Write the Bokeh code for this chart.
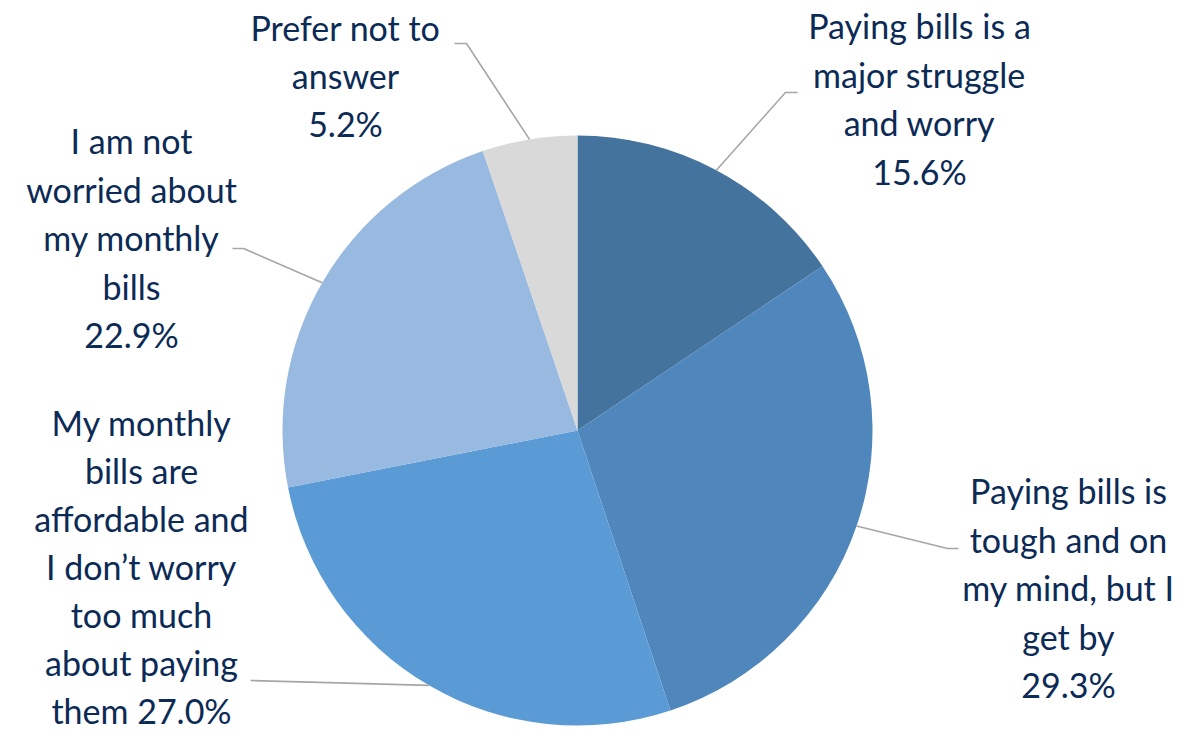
import math
from bokeh.plotting import figure
from bokeh.models import Range1d
from bokeh.core.properties import value
from bokeh.embed import file_html
from bokeh.resources import INLINE

# ---- data ----
categories = [
    "Paying bills is a major struggle and worry",
    "Paying bills is tough and on my mind, but I get by",
    "My monthly bills are affordable and I don’t worry too much about paying them",
    "I am not worried about my monthly bills",
    "Prefer not to answer",
]
shares = [15.6, 29.3, 27.0, 22.9, 5.2]
label_lines = [
    ["Paying bills is a", "major struggle", "and worry", "15.6%"],
    ["Paying bills is", "tough and on", "my mind, but I", "get by", "29.3%"],
    ["My monthly", "bills are", "affordable and", "I don’t worry", "too much", "about paying", "them 27.0%"],
    ["I am not", "worried about", "my monthly", "bills", "22.9%"],
    ["Prefer not to", "answer", "5.2%"],
]

# ---- style / layout ----
colors = ["#44739E", "#4F87BD", "#5B9BD5", "#98B9E0", "#D9D9D9"]
W, H = 1191, 732
cx, cy_pix, R = 577, 430, 295
label_pos = [(919, 25), (1068, 490), (141, 422), (131, 140), (345, 27)]  # first-line centre (pixels)
line_steps = [48.5, 48.5, 48.0, 48.5, 48.0]
elbows = [  # (elbow point, end point) in pixels
    ((785, 92), (797, 92)),
    ((947, 548), (958, 548)),
    ((250, 680), (250, 680)),
    ((243, 248), (232, 248)),
    ((466, 43), (454, 43)),
]
text_color = "#0B2A55"
line_color = "#A6A6A6"

def Y(ypix):
    return H - ypix

p = figure(width=W, height=H, x_range=Range1d(0, W), y_range=Range1d(0, H),
           output_backend="svg", toolbar_location=None, min_border=0)
p.axis.visible = False
p.grid.visible = False
p.outline_line_color = None
p.background_fill_color = "white"
p.border_fill_color = "white"

total = sum(shares)
start = math.pi / 2
starts, ends, mids = [], [], []
for s in shares:
    sweep = 2 * math.pi * s / total
    starts.append(start)
    ends.append(start - sweep)
    mids.append(start - sweep / 2)
    start -= sweep

p.wedge(x=[cx] * len(shares), y=[Y(cy_pix)] * len(shares), radius=R,
        start_angle=starts, end_angle=ends, direction="clock",
        fill_color=colors, line_color=None)

# leader lines
for m, (elb, endp) in zip(mids, elbows):
    ax = cx + R * math.cos(m)
    ay = Y(cy_pix) + R * math.sin(m)
    p.line([ax, elb[0], endp[0]], [ay, Y(elb[1]), Y(endp[1])],
           line_color=line_color, line_width=1.6)

# labels
xs, ys, txt = [], [], []
for lines, (lx, ly), step in zip(label_lines, label_pos, line_steps):
    for i, t in enumerate(lines):
        xs.append(lx)
        ys.append(Y(ly + i * step))
        txt.append(t)
p.text(x=xs, y=ys, text=txt, text_align="center", text_baseline="middle",
       text_font=value("Lato"), text_font_size="34px", text_color=text_color)

open("out.html", "w").write(file_html(p, INLINE))
